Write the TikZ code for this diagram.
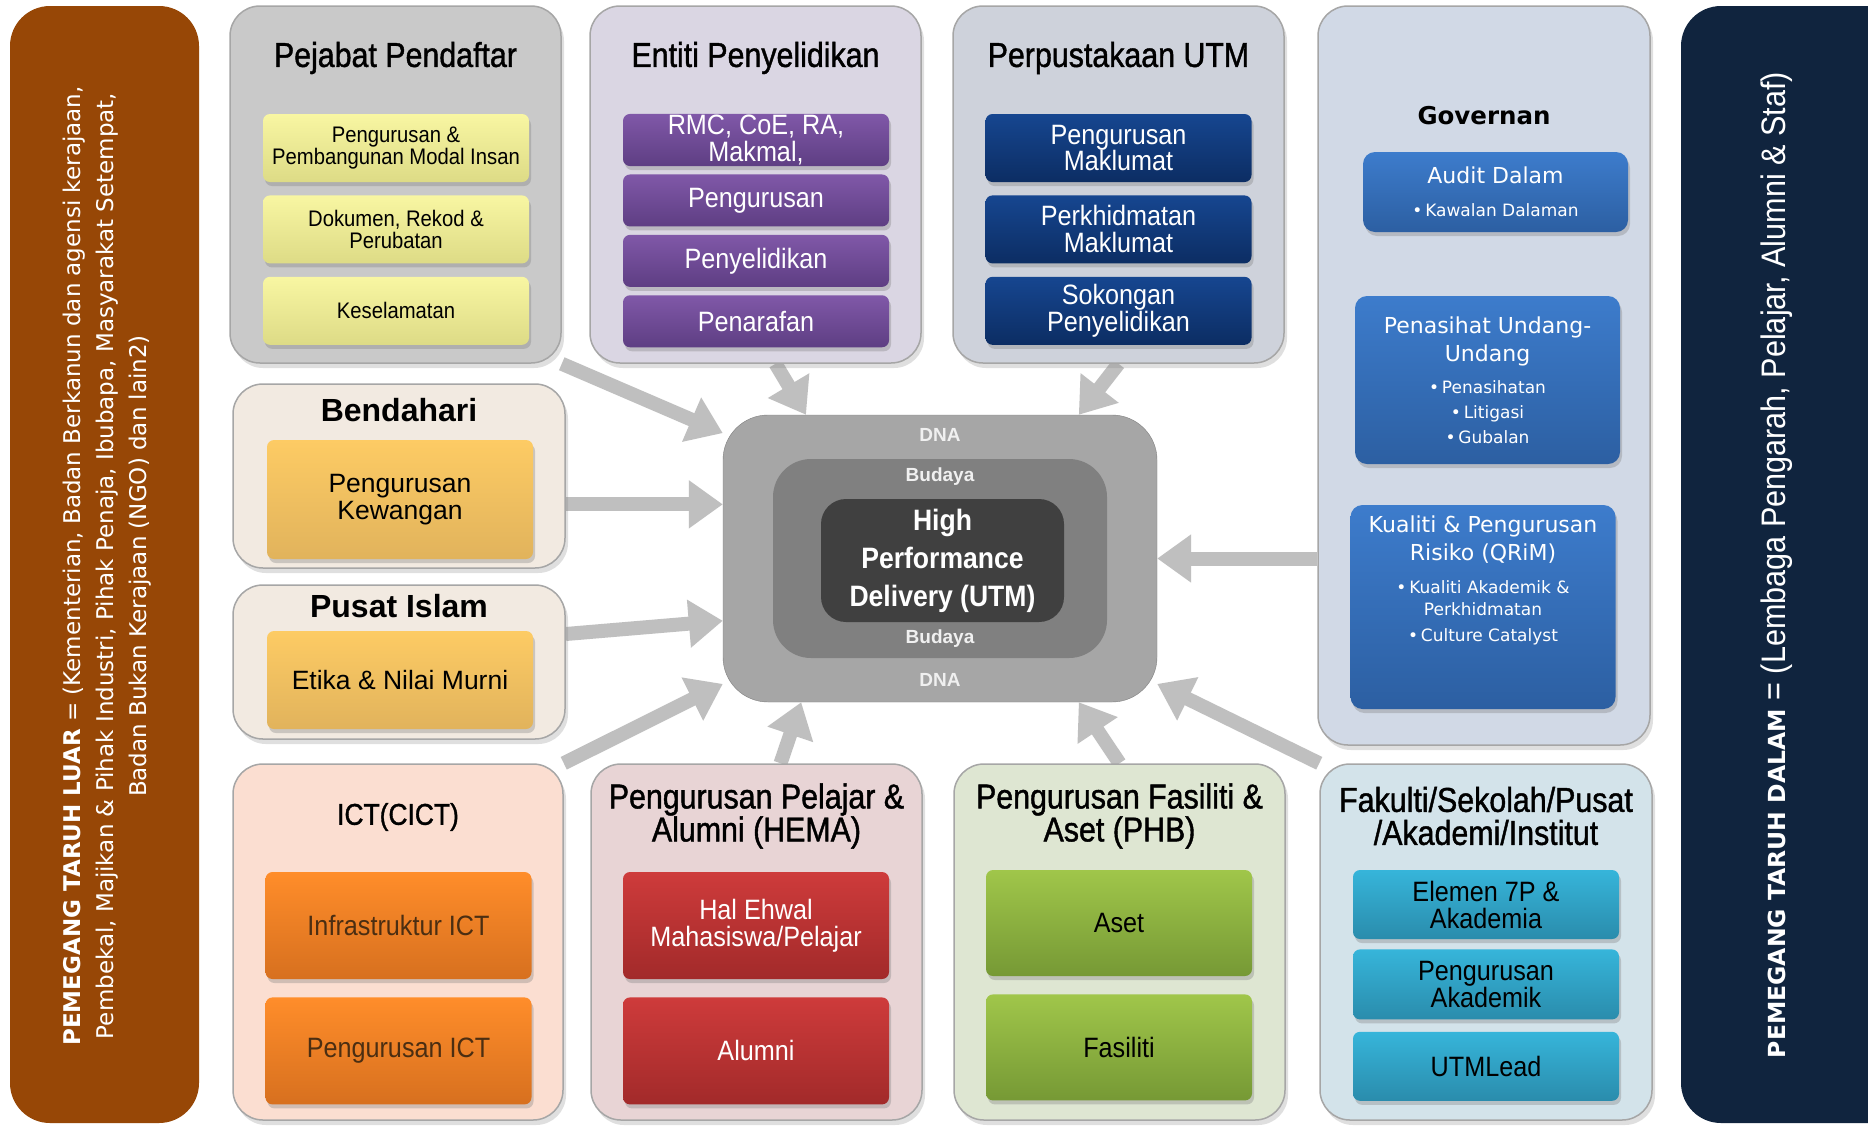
\documentclass[tikz,border=0pt]{standalone}
\usepackage{fontspec}
\setmainfont{Liberation Sans}
\newfontfamily\condfont[FakeStretch=0.9]{Liberation Sans}
\newfontfamily\condtitle[FakeStretch=0.88, FakeBold=1.2]{Liberation Sans}
\newfontfamily\verdfont{DejaVu Sans}
\usetikzlibrary{positioning, arrows.meta, shadows, backgrounds}
\newcommand{\standardarrow}{-{Triangle[length=34pt,width=46pt]}}
\newcommand{\titlefont}{\condtitle\fontsize{34.5}{33}\selectfont}
\newcommand{\boxfont}{\condfont\fontsize{28}{27}\selectfont}
\newcommand{\smallboxfont}{\condfont\fontsize{22.5}{22}\selectfont}
\newcommand{\arialbox}{\fontsize{26.5}{27.5}\selectfont}
\newcommand{\govtitle}{\fontsize{22}{27.5}\selectfont}
\definecolor{luar}{HTML}{974706}
\definecolor{dalam}{HTML}{10243E}
\definecolor{pejabatbg}{HTML}{C9C9C9}
\definecolor{kuningA}{HTML}{F8F6A2}
\definecolor{kuningB}{HTML}{DDDB86}
\definecolor{entitibg}{HTML}{DAD6E3}
\definecolor{unguA}{HTML}{8058A8}
\definecolor{unguB}{HTML}{5E3E83}
\definecolor{pustakabg}{HTML}{CED2DB}
\definecolor{biruA}{HTML}{164690}
\definecolor{biruB}{HTML}{0C2D63}
\definecolor{govbg}{HTML}{D1D9E6}
\definecolor{govA}{HTML}{3D7CCC}
\definecolor{govB}{HTML}{2C5FA2}
\definecolor{bendbg}{HTML}{F2EAE1}
\definecolor{emasA}{HTML}{FDCB64}
\definecolor{emasB}{HTML}{E1B35C}
\definecolor{ictbg}{HTML}{FBDED1}
\definecolor{oreA}{HTML}{FF8D2A}
\definecolor{oreB}{HTML}{D7701F}
\definecolor{ictteks}{HTML}{4B2E12}
\definecolor{hemabg}{HTML}{E8D4D5}
\definecolor{merahA}{HTML}{CE3B3B}
\definecolor{merahB}{HTML}{A22A2A}
\definecolor{phbbg}{HTML}{DEE6D2}
\definecolor{hijauA}{HTML}{A0C64A}
\definecolor{hijauB}{HTML}{769935}
\definecolor{fakbg}{HTML}{D3E3EA}
\definecolor{cyanA}{HTML}{36B5DA}
\definecolor{cyanB}{HTML}{2A8CAC}
\tikzset{
  panel/.style={draw=black!35, line width=1.5pt, rounded corners=30pt,
    drop shadow={opacity=0.25, shadow xshift=3pt, shadow yshift=-5pt}},
  subbox/.style={rounded corners=7pt, minimum width=266pt, inner sep=1pt, align=center,
    font=\boxfont, drop shadow={opacity=0.35, shadow xshift=2pt, shadow yshift=-4pt}},
  govbox/.style={rounded corners=12pt, minimum width=265pt, inner sep=2pt, align=center,
    top color=govA, bottom color=govB, text=white, font=\verdfont\fontsize{17}{25}\selectfont,
    drop shadow={opacity=0.35, shadow xshift=2pt, shadow yshift=-4pt}},
  paneltitle/.style={font=\titlefont, align=center},
  boldtitle/.style={font=\bfseries\fontsize{32}{34}\selectfont},
  dnalabel/.style={font=\bfseries\fontsize{19}{20}\selectfont, text=black!6},
  bigarrow/.style={draw=black!25, line width=14pt},
}

\begin{document}
\begin{tikzpicture}[x=1pt, y=-1pt]
\useasboundingbox (0,0) rectangle (1868,1125);

\node[fill=luar, rounded corners=40pt, minimum width=189pt, minimum height=1117pt] (luar) at (104.5,564.5) {};
\node[rotate=90, align=center, text=white, font=\verdfont\fontsize{23}{33}\selectfont] (luarteks) at (107,566)
  {\textbf{PEMEGANG TARUH LUAR} = (Kementerian, Badan Berkanun dan agensi kerajaan,\\
   Pembekal, Majikan \& Pihak Industri, Pihak Penaja, Ibubapa, Masyarakat Setempat,\\
   Badan Bukan Kerajaan (NGO) dan lain2)};
\node[fill=dalam, rounded corners=40pt, minimum width=230pt, minimum height=1117pt] (dalam) at (1796,564.5) {};
\node[rotate=90, text=white] (dalamteks) at (1777,565)
  {{\verdfont\bfseries\fontsize{23.5}{28}\selectfont PEMEGANG TARUH DALAM}{\condfont\fontsize{34}{34}\selectfont\ = (Lembaga Pengarah, Pelajar, Alumni \& Staf)}};

\node[panel, fill=pejabatbg, minimum width=331pt, minimum height=357pt] (pejabat) at (395.5,184.5) {};
\node[paneltitle] (t-pejabat) at (395.5,58) {Pejabat Pendaftar};
\node[subbox, top color=kuningA, bottom color=kuningB, minimum height=68pt, font=\smallboxfont] (pj1) at (396,148) {Pengurusan \&\\Pembangunan Modal Insan};
\node[subbox, top color=kuningA, bottom color=kuningB, minimum height=68pt, font=\smallboxfont, below=13pt of pj1] (pj2) {Dokumen, Rekod \&\\Perubatan};
\node[subbox, top color=kuningA, bottom color=kuningB, minimum height=68pt, font=\smallboxfont, below=13pt of pj2] (pj3) {Keselamatan};

\node[panel, fill=entitibg, minimum width=331pt, minimum height=357pt] (entiti) at (755.5,184.5) {};
\node[paneltitle] (t-entiti) at (755.5,58) {Entiti Penyelidikan};
\node[subbox, top color=unguA, bottom color=unguB, text=white, minimum height=52pt] (en1) at (756,140) {RMC, CoE, RA,\\Makmal,};
\node[subbox, top color=unguA, bottom color=unguB, text=white, minimum height=52pt, below=8pt of en1] (en2) {Pengurusan};
\node[subbox, top color=unguA, bottom color=unguB, text=white, minimum height=52pt, below=8pt of en2] (en3) {Penyelidikan};
\node[subbox, top color=unguA, bottom color=unguB, text=white, minimum height=52pt, below=8pt of en3] (en4) {Penarafan};

\node[panel, fill=pustakabg, minimum width=331pt, minimum height=357pt] (pustaka) at (1118.5,184.5) {};
\node[paneltitle] (t-pustaka) at (1118.5,58) {Perpustakaan UTM};
\node[subbox, top color=biruA, bottom color=biruB, text=white, minimum height=68pt] (pu1) at (1118.5,148) {Pengurusan\\Maklumat};
\node[subbox, top color=biruA, bottom color=biruB, text=white, minimum height=68pt, below=13pt of pu1] (pu2) {Perkhidmatan\\Maklumat};
\node[subbox, top color=biruA, bottom color=biruB, text=white, minimum height=68pt, below=13pt of pu2] (pu3) {Sokongan\\Penyelidikan};

\node[panel, fill=govbg, minimum width=332pt, minimum height=739pt] (governan) at (1484,375.5) {};
\node[font=\verdfont\bfseries\fontsize{24.5}{28}\selectfont] (t-governan) at (1484,116) {Governan};
\node[govbox, minimum height=80pt] (audit) at (1495.5,192)
  {\govtitle Audit Dalam\\[8pt]\textbullet\,Kawalan Dalaman};
\node[govbox, minimum height=168pt] (penasihat) at (1487.5,380)
  {\govtitle Penasihat Undang-\\[3pt]\govtitle Undang\\[7pt]\textbullet\,Penasihatan\\\textbullet\,Litigasi\\\textbullet\,Gubalan};
\node[govbox, minimum height=204pt] (kualiti) at (1483,607) {};
\node[align=center, text=white, inner sep=2pt, font=\verdfont\fontsize{17}{22}\selectfont, below=9pt of kualiti.north] (kualititeks)
  {\govtitle Kualiti \& Pengurusan\\[6pt]\govtitle Risiko (QRiM)\\[11pt]\textbullet\,Kualiti Akademik \&\\Perkhidmatan\\[4pt]\textbullet\,Culture Catalyst};

\node[panel, fill=bendbg, minimum width=332pt, minimum height=184pt] (bendahari) at (399,476) {};
\node[boldtitle] (t-bendahari) at (399,410) {Bendahari};
\node[subbox, top color=emasA, bottom color=emasB, minimum height=119pt, font=\arialbox] (bd1) at (400,499.5) {Pengurusan\\Kewangan};

\node[panel, fill=bendbg, minimum width=332pt, minimum height=154pt] (pusat) at (399,662) {};
\node[boldtitle] (t-pusat) at (399,606) {Pusat Islam};
\node[subbox, top color=emasA, bottom color=emasB, minimum height=98pt, font=\arialbox] (ps1) at (400,680) {Etika \& Nilai Murni};

\node[panel, fill=ictbg, minimum width=330pt, minimum height=356pt] (ict) at (398,942) {};
\node[paneltitle, font=\condtitle\fontsize{30}{33}\selectfont] (t-ict) at (398,817) {ICT(CICT)};
\node[subbox, top color=oreA, bottom color=oreB, text=ictteks, minimum height=107pt] (ic1) at (398.5,925.5) {Infrastruktur ICT};
\node[subbox, top color=oreA, bottom color=oreB, text=ictteks, minimum height=107pt, below=18pt of ic1] (ic2) {Pengurusan ICT};

\node[panel, fill=hemabg, minimum width=331pt, minimum height=356pt] (hema) at (756.5,942) {};
\node[paneltitle] (t-hema) at (756.5,816) {Pengurusan Pelajar \&\\Alumni (HEMA)};
\node[subbox, top color=merahA, bottom color=merahB, text=white, minimum height=107pt] (hm1) at (756,925.5) {Hal Ehwal\\Mahasiswa/Pelajar};
\node[subbox, top color=merahA, bottom color=merahB, text=white, minimum height=107pt, below=18pt of hm1] (hm2) {Alumni};

\node[panel, fill=phbbg, minimum width=331pt, minimum height=356pt] (phb) at (1119.5,942) {};
\node[paneltitle] (t-phb) at (1119.5,816) {Pengurusan Fasiliti \&\\Aset (PHB)};
\node[subbox, top color=hijauA, bottom color=hijauB, minimum height=106pt] (ph1) at (1119,923) {Aset};
\node[subbox, top color=hijauA, bottom color=hijauB, minimum height=106pt, below=18pt of ph1] (ph2) {Fasiliti};

\node[panel, fill=fakbg, minimum width=332pt, minimum height=356pt] (fakulti) at (1486,942) {};
\node[paneltitle] (t-fakulti) at (1486,816) {Fakulti/Sekolah/Pusat\\/Akademi/Institut};
\node[subbox, top color=cyanA, bottom color=cyanB, minimum height=69pt] (fk1) at (1486,904.5) {Elemen 7P \&\\Akademia};
\node[subbox, top color=cyanA, bottom color=cyanB, minimum height=70pt, below=10pt of fk1] (fk2) {Pengurusan\\Akademik};
\node[subbox, top color=cyanA, bottom color=cyanB, minimum height=69pt, below=12pt of fk2] (fk3) {UTMLead};

\node[fill=black!35, draw=black!50, rounded corners=45pt, minimum width=434pt, minimum height=287pt] (dna) at (940,558.5) {};
\node[fill=black!50, rounded corners=38pt, minimum width=334pt, minimum height=199pt] (budaya) at (940,558.5) {};
\node[fill=black!75, rounded corners=25pt, minimum width=243pt, minimum height=123pt, text=white, align=center,
  font=\condfont\bfseries\fontsize{29.5}{38}\selectfont] (hpd) at (942.5,560.5) {High\\Performance\\Delivery (UTM)};
\node[dnalabel] (dna-atas) at (940,435) {DNA};
\node[dnalabel] (budaya-atas) at (940,477) {Budaya};
\node[dnalabel] (budaya-bawah) at (940,639) {Budaya};
\node[dnalabel] (dna-bawah) at (940,680) {DNA};

\begin{pgfonlayer}{background}
\fill[white] (0,0) rectangle (1868,1125);
\draw[bigarrow, \standardarrow] (pejabat.south east) -- (dna.150);
\draw[bigarrow, \standardarrow] ([xshift=20pt]entiti.south) -- (dna.133);
\draw[bigarrow, \standardarrow] (pustaka.south) -- (dna.46);
\draw[bigarrow, \standardarrow] (bendahari.east |- dna.166) -- (dna.166);
\draw[bigarrow, \standardarrow] ([yshift=28pt]pusat.east) -- (dna.196);
\draw[bigarrow, \standardarrow] (ict.north east) -- (dna.210);
\draw[bigarrow, \standardarrow] ([xshift=24pt]hema.north) -- (dna.226);
\draw[bigarrow, \standardarrow] (phb.north) -- (dna.314);
\draw[bigarrow, \standardarrow] (fakulti.north west) -- (dna.330);
\draw[bigarrow, \standardarrow] (governan.west |- dna.east) -- (dna.east);
\end{pgfonlayer}
\end{tikzpicture}
\end{document}
